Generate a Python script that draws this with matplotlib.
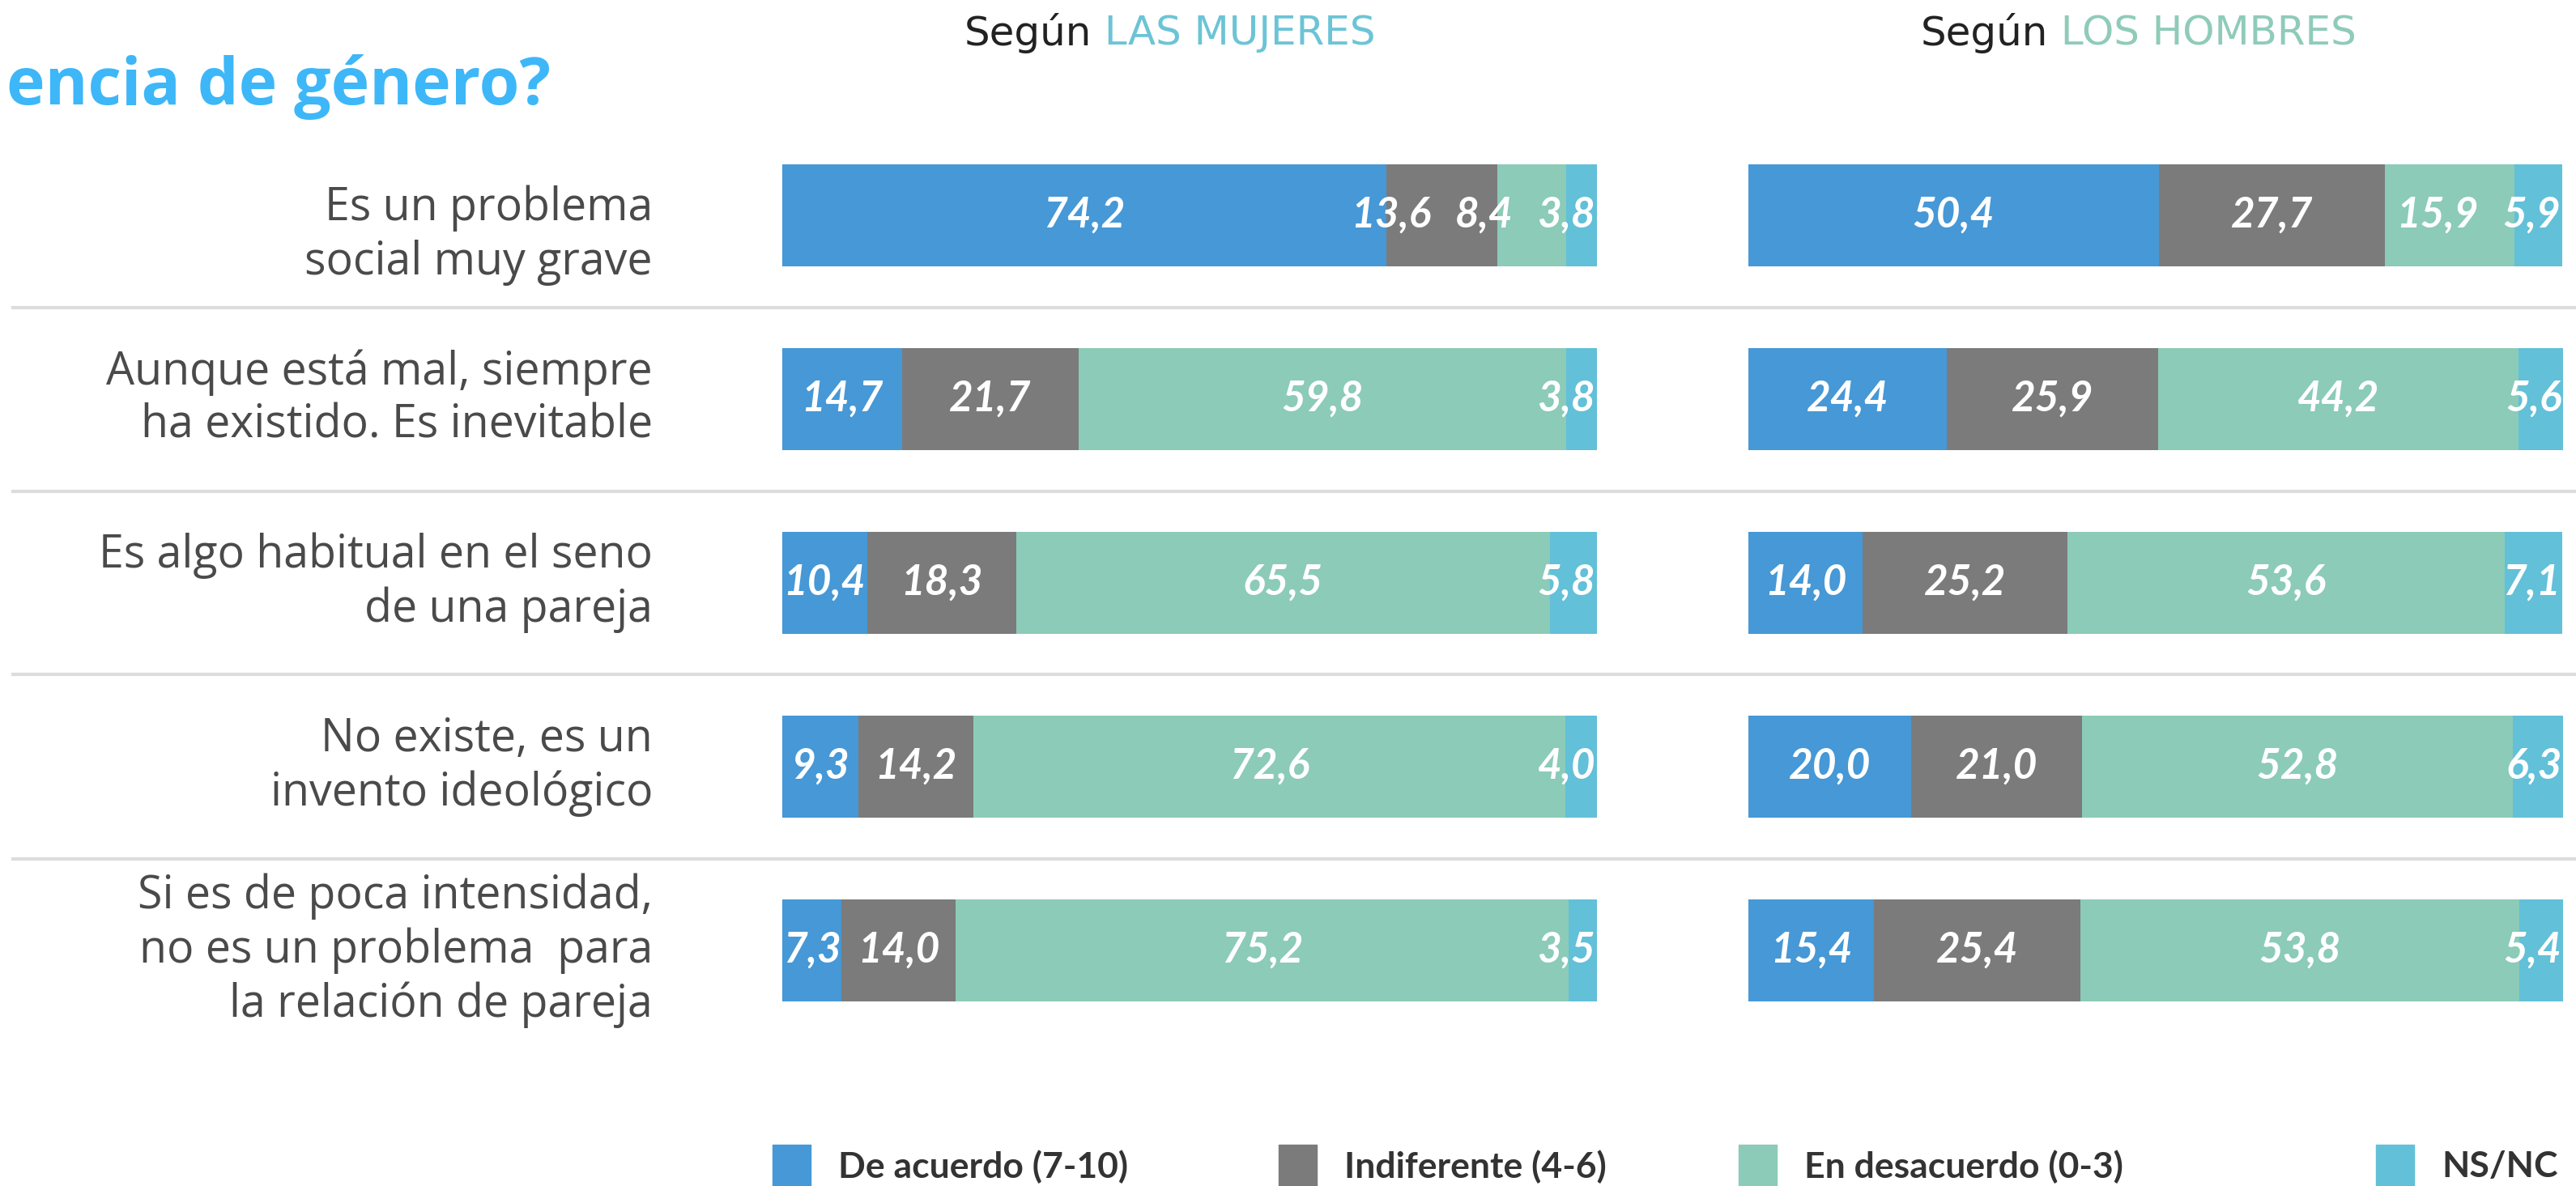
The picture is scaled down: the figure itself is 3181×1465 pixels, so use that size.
import numpy as np
import matplotlib.pyplot as plt
from matplotlib.lines import Line2D
from matplotlib.patches import Rectangle
import matplotlib.transforms as mtransforms

plt.rcParams['font.family'] = ['Lato', 'DejaVu Sans']

# Data
categorias = ["Es un problema\nsocial muy grave",
              "Aunque está mal, siempre\nha existido. Es inevitable",
              "Es algo habitual en el seno\nde una pareja",
              "No existe, es un\ninvento ideológico",
              "Si es de poca intensidad,\nno es un problema  para\nla relación de pareja"]
respuestas = ["De acuerdo (7-10)", "Indiferente (4-6)", "En desacuerdo (0-3)", "NS/NC"]

mujeres_acuerdo = [74.2, 14.7, 10.4, 9.3, 7.3]
mujeres_indif = [13.6, 21.7, 18.3, 14.2, 14.0]
mujeres_desac = [8.4, 59.8, 65.5, 72.6, 75.2]
mujeres_nsnc = [3.8, 3.8, 5.8, 4.0, 3.5]

hombres_acuerdo = [50.4, 24.4, 14.0, 20.0, 15.4]
hombres_indif = [27.7, 25.9, 25.2, 21.0, 25.4]
hombres_desac = [15.9, 44.2, 53.6, 52.8, 53.8]
hombres_nsnc = [5.9, 5.6, 7.1, 6.3, 5.4]

colores = ['#4698d6', '#7b7b7b', '#8bcbb8', '#62c0d8']

W, H = 3181, 1465
fig = plt.figure(figsize=(W / 100, H / 100), dpi=100)
renderer = fig.canvas.get_renderer()


def fx(px):
    return px / W


def fy(py):
    return 1 - py / H


top_px, bot_px = 150, 1290
row0, step = 266, 227


def panel(x0, x1, series):
    ax = fig.add_axes([fx(x0), fy(bot_px), (x1 - x0) / W, (bot_px - top_px) / H])
    ax.set_xlim(0, 100)
    ax.set_ylim((bot_px - row0) / step, (top_px - row0) / step)
    ax.axis('off')
    rows = np.arange(len(categorias))
    left = np.zeros(len(categorias))
    etiquetas = [[] for _ in rows]
    for j, vals in enumerate(series):
        vals = np.array(vals)
        ax.barh(rows, vals, left=left, height=0.555, color=colores[j])
        for i, v in enumerate(vals):
            txt = f"{v:.1f}".replace('.', ',')
            if j == len(series) - 1:
                t = ax.text(left[i] + v - 0.2, i, txt, ha='right', va='center', color='white',
                            fontsize=37, fontweight='bold', fontstyle='italic')
            else:
                t = ax.text(left[i] + v / 2, i, txt, ha='center', va='center', color='white',
                            fontsize=37, fontweight='bold', fontstyle='italic')
            etiquetas[i].append(t)
        left = left + vals

    # push labels left when they would run into the next one, but not past the bar start
    gap = 30
    x_min = ax.transData.transform((0, 0))[0] + 4
    for i, fila in enumerate(etiquetas):
        for k in range(len(fila) - 2, -1, -1):
            bb_r = fila[k + 1].get_window_extent(renderer)
            bb = fila[k].get_window_extent(renderer)
            shift = max(bb.x1 - (bb_r.x0 - gap), 0)
            shift = min(shift, bb.x0 - x_min)
            if shift > 0:
                x, y = fila[k].get_position()
                xd, yd = ax.transData.transform((x, y))
                fila[k].set_x(ax.transData.inverted().transform((xd - shift, yd))[0])
    return ax


ax_m = panel(966, 1972, [mujeres_acuerdo, mujeres_indif, mujeres_desac, mujeres_nsnc])
ax_h = panel(2159, 3165, [hombres_acuerdo, hombres_indif, hombres_desac, hombres_nsnc])

# separators and category labels
trans = mtransforms.blended_transform_factory(fig.transFigure, ax_m.transData)
for k in range(len(categorias) - 1):
    fig.add_artist(Line2D([fx(16), 1], [k + 0.5, k + 0.5], transform=trans,
                          color='#dcdcdc', lw=3, zorder=0))
for i, c in enumerate(categorias):
    fig.text(fx(806), i + (0.11 if i == 0 else 0), c, transform=trans, ha='right',
             va='center', fontsize=40, color='#4a4a4a', linespacing=1.22,
             family=['Open Sans', 'DejaVu Sans'])

# headers
for xc, quien, col in [(1191, "LAS MUJERES", '#6cc4d6'), (2372, "LOS HOMBRES", '#8fcbb9')]:
    t = fig.text(fx(xc), fy(41), "Según", ha='left', va='center', fontsize=36,
                 color='#222222', family=['DejaVu Sans'])
    plt.annotate(" " + quien, xy=(1, 0.5), xycoords=t, va='center', ha='left',
                 fontsize=36, color=col, annotation_clip=False, family=['DejaVu Sans'])

# title (partly outside the picture)
fig.text(fx(680), fy(108), "encia de género?", ha='right', va='center',
         fontsize=58, fontweight='bold', color='#3db7f8', family=['Open Sans', 'DejaVu Sans'])

# legend
for xs, lab, col in zip([954, 1579, 2147, 2934], respuestas, colores):
    fig.add_artist(Rectangle((fx(xs), 0), 47 / W, (1465 - 1414) / H,
                             transform=fig.transFigure, color=col))
    fig.text(fx(xs + 81), fy(1441), lab, ha='left', va='center', fontsize=32,
             fontweight='bold', color='#333333')

fig.savefig('out.png', dpi=100)
